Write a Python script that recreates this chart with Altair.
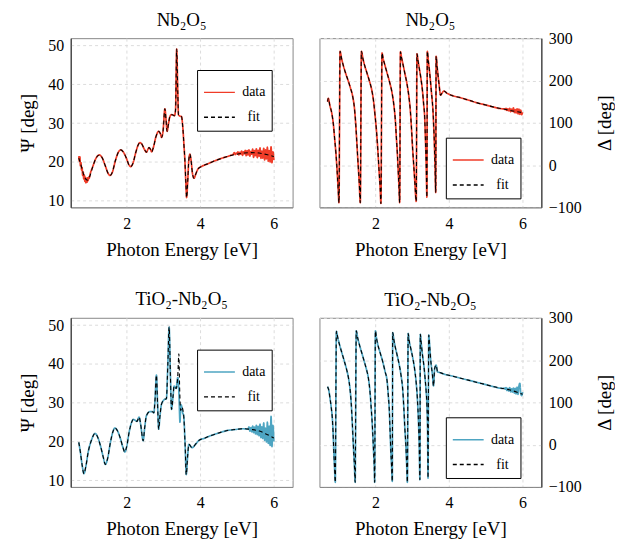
import altair as alt
import pandas as pd

FONT = "Liberation Serif"
RED = "#f03c28"
CYAN = "#4ea5c2"

# ---------------- Nb2O5 : Psi ----------------
nb_psi_E = [0.70, 0.75, 0.80, 0.86, 0.93, 1.00, 1.08, 1.17, 1.26, 1.34, 1.42, 1.50, 1.55, 1.61, 1.70,
            1.78, 1.84, 1.92, 2.00, 2.06, 2.11, 2.17, 2.25, 2.31, 2.36, 2.42, 2.48, 2.54, 2.58, 2.61,
            2.65, 2.68, 2.72, 2.80, 2.87, 2.92, 2.95, 2.99, 3.04, 3.07, 3.10, 3.14, 3.17, 3.22, 3.26,
            3.30, 3.33, 3.36, 3.39, 3.41, 3.45, 3.49, 3.53, 3.56, 3.58, 3.61, 3.63, 3.66, 3.69, 3.72,
            3.75, 3.79, 3.83, 3.88, 3.94, 4.05, 4.20, 4.40, 4.60, 4.80, 5.00, 5.20, 5.40, 5.60, 5.80, 6.00]
nb_psi_fit = [21.0, 19.5, 17.8, 16.0, 15.3, 16.3, 18.8, 21.0, 21.8, 21.0, 19.0, 17.0, 16.5, 17.3, 20.5,
              22.6, 23.1, 22.4, 20.8, 19.3, 18.8, 19.6, 22.5, 24.3, 25.0, 24.5, 23.3, 22.5, 23.3, 23.7,
              23.2, 22.6, 23.5, 26.6, 27.9, 27.2, 26.3, 28.0, 33.7, 31.0, 27.9, 30.0, 31.5, 32.2, 32.1,
              31.9, 33.5, 49.1, 38.0, 32.1, 31.8, 31.7, 28.5, 24.0, 21.0, 14.5, 10.8, 15.0, 20.5, 22.0,
              20.5, 17.0, 15.8, 16.9, 18.2, 18.9, 19.5, 20.3, 21.0, 21.6, 22.0, 22.3, 22.4, 22.3, 21.9, 21.4]
nb_psi_head_E = [0.700, 0.715, 0.730, 0.745, 0.760, 0.775, 0.790, 0.805, 0.820, 0.835, 0.850,
                 0.865, 0.880, 0.895, 0.910, 0.925, 0.940, 0.955, 0.970, 0.985, 1.000]
nb_psi_head = [21.5, 20.2, 21.3, 19.0, 19.8, 17.9, 18.6, 16.5, 17.4, 15.6, 16.6,
               15.0, 16.0, 14.6, 15.8, 14.8, 15.9, 15.2, 16.1, 15.8, 16.5]
nb_psi_tail_E = [4.900, 4.925, 4.950, 4.975, 5.000, 5.025, 5.050, 5.075, 5.100, 5.125, 5.150, 5.175,
                 5.200, 5.225, 5.250, 5.275, 5.300, 5.325, 5.350, 5.375, 5.400, 5.425, 5.450, 5.475,
                 5.500, 5.525, 5.550, 5.575, 5.600, 5.625, 5.650, 5.675, 5.700, 5.725, 5.750, 5.775,
                 5.800, 5.825, 5.850, 5.875, 5.900, 5.925, 5.950, 5.975, 6.000]
nb_psi_tail = [22.0, 22.4, 21.9, 22.3, 22.1, 22.6, 21.8, 22.5, 22.0, 22.8, 21.7, 22.6,
               22.1, 23.0, 21.6, 22.9, 21.8, 23.1, 21.5, 22.7, 22.0, 23.3, 21.2, 22.9,
               21.6, 23.4, 21.1, 23.0, 21.5, 23.6, 20.9, 22.8, 21.0, 23.5, 20.5, 23.1,
               20.8, 23.8, 20.2, 22.9, 20.0, 23.9, 19.8, 22.6, 20.5]

# ---------------- Nb2O5 : Delta ----------------
nb_del_E = [0.70, 0.72, 0.76, 0.82, 0.86, 0.89, 0.93, 0.96, 0.99, 1.01, 1.04, 1.08, 1.12, 1.18, 1.25,
            1.32, 1.39, 1.43, 1.46, 1.49, 1.52, 1.56, 1.59, 1.62, 1.66, 1.70, 1.77, 1.84, 1.90, 1.95,
            1.99, 2.03, 2.07, 2.10, 2.13, 2.15, 2.18, 2.21, 2.24, 2.31, 2.38, 2.45, 2.50, 2.54, 2.57,
            2.60, 2.62, 2.64, 2.66, 2.68, 2.71, 2.74, 2.80, 2.86, 2.91, 2.95, 2.98, 3.01, 3.04, 3.07,
            3.11, 3.13, 3.16, 3.19, 3.24, 3.28, 3.31, 3.34, 3.36, 3.38, 3.40, 3.41, 3.44, 3.47, 3.52,
            3.57, 3.60, 3.62, 3.64, 3.65, 3.68, 3.73, 3.77, 3.81, 3.86, 3.94, 4.10, 4.32, 4.55, 4.77,
            5.00, 5.22, 5.45, 5.67, 5.85, 6.00]
nb_del_fit = [150, 158, 142, 120, 95, 65, 25, -14, -60, -89, 269, 252, 238, 220, 202,
              183, 159, 135, 104, 62, 17, -40, -89, 269, 252, 238, 218, 198, 178, 151,
              118, 80, 30, -14, -55, -91, 265, 252, 242, 220, 198, 172, 143, 108, 65,
              22, -14, -50, -89, 268, 254, 242, 217, 191, 162, 128, 88, 41, 2, -38,
              -86, 263, 246, 230, 203, 175, 145, 112, 60, 2, -76, 269, 245, 222, 175,
              120, 57, 0, -65, 257, 230, 191, 165, 170, 175, 170, 164, 159, 153, 147,
              142, 137, 133, 129, 126, 124]
nb_del_tail_E = [5.500, 5.525, 5.550, 5.575, 5.600, 5.625, 5.650, 5.675, 5.700, 5.725, 5.750,
                 5.775, 5.800, 5.825, 5.850, 5.875, 5.900, 5.925, 5.950, 5.975, 6.000]
nb_del_tail = [133, 131, 134, 129, 133, 128, 134, 126, 132, 127, 135,
               124, 131, 123, 133, 121, 132, 120, 130, 119, 125]

# ---------------- TiO2-Nb2O5 : Psi ----------------
ti_psi_E = [0.70, 0.74, 0.79, 0.84, 0.89, 0.96, 1.05, 1.14, 1.22, 1.30, 1.37, 1.42, 1.48, 1.56, 1.63,
            1.68, 1.75, 1.83, 1.90, 1.95, 2.00, 2.07, 2.13, 2.18, 2.23, 2.28, 2.34, 2.38, 2.45, 2.49,
            2.54, 2.63, 2.70, 2.74, 2.77, 2.81, 2.84, 2.87, 2.91, 2.95, 3.04, 3.08, 3.12, 3.155, 3.19,
            3.22, 3.26, 3.29, 3.35, 3.39, 3.42, 3.44, 3.47, 3.50, 3.55, 3.59, 3.62, 3.66, 3.69, 3.78,
            3.88, 3.98, 4.10, 4.25, 4.50, 4.71, 4.95, 5.16, 5.40, 5.61, 5.80, 6.00]
ti_psi_fit = [19.8, 17.5, 14.0, 11.7, 13.5, 17.5, 20.5, 22.1, 21.0, 18.5, 15.8, 14.1, 15.5, 19.8, 22.6,
              23.5, 22.8, 20.8, 18.5, 17.3, 18.6, 22.5, 24.8, 25.7, 25.5, 25.2, 26.3, 24.5, 20.2, 23.5,
              26.7, 27.7, 27.7, 27.4, 30.5, 37.1, 30.0, 23.2, 27.0, 29.7, 30.9, 31.0, 40.0, 49.5, 37.0,
              28.3, 31.5, 34.3, 33.7, 37.0, 42.6, 34.0, 28.0, 28.9, 26.7, 19.0, 11.5, 16.5, 19.3, 18.4,
              19.4, 20.4, 20.8, 21.4, 22.2, 22.8, 23.1, 23.3, 23.1, 22.7, 21.9, 20.9]
ti_psi_mid_E = [3.36, 3.39, 3.42, 3.45, 3.47, 3.50, 3.52]
ti_psi_mid = [34.5, 36.5, 33.0, 25.0, 29.5, 28.9, 27.5]
ti_psi_tail_E = [5.300, 5.325, 5.350, 5.375, 5.400, 5.425, 5.450, 5.475, 5.500, 5.525, 5.550, 5.575,
                 5.600, 5.625, 5.650, 5.675, 5.700, 5.725, 5.750, 5.775, 5.800, 5.825, 5.850, 5.875,
                 5.900, 5.925, 5.950, 5.975, 6.000]
ti_psi_tail = [23.2, 23.8, 22.7, 23.6, 22.5, 24.0, 22.3, 23.7, 22.0, 24.2, 21.8, 23.9,
               21.5, 24.5, 21.0, 23.8, 20.8, 24.8, 20.3, 23.5, 19.9, 25.0, 19.5, 24.0,
               19.0, 26.5, 18.7, 24.2, 20.0]

# ---------------- TiO2-Nb2O5 : Delta ----------------
ti_del_E = [0.70, 0.73, 0.77, 0.80, 0.83, 0.85, 0.87, 0.89, 0.91, 0.94, 0.98, 1.03, 1.10, 1.16, 1.22,
            1.27, 1.31, 1.34, 1.37, 1.40, 1.43, 1.45, 1.48, 1.52, 1.57, 1.64, 1.70, 1.76, 1.81, 1.85,
            1.88, 1.92, 1.95, 1.97, 1.98, 2.00, 2.03, 2.06, 2.13, 2.20, 2.26, 2.32, 2.35, 2.38, 2.40,
            2.42, 2.44, 2.46, 2.47, 2.50, 2.53, 2.59, 2.65, 2.70, 2.74, 2.77, 2.80, 2.83, 2.85, 2.87,
            2.89, 2.92, 2.96, 3.02, 3.07, 3.11, 3.14, 3.17, 3.19, 3.21, 3.22, 3.25, 3.28, 3.32, 3.35,
            3.38, 3.40, 3.42, 3.43, 3.45, 3.48, 3.50, 3.55, 3.58, 3.61, 3.65, 3.69, 3.73, 3.90, 4.10,
            4.32, 4.55, 4.77, 5.00, 5.22, 5.45, 5.67, 5.85, 6.00]
ti_del_fit = [137, 130, 108, 88, 62, 30, -16, -55, -89, 268, 252, 235, 214, 196, 177,
              157, 132, 102, 55, 0, -50, -89, 269, 252, 235, 214, 196, 177, 157, 128,
              94, 40, -16, -55, -89, 269, 252, 239, 217, 196, 174, 149, 117, 78, 30,
              -16, -52, -87, 265, 249, 235, 212, 188, 162, 133, 92, 39, -5, -48, -89,
              263, 245, 228, 203, 176, 145, 110, 55, 0, -83, 261, 236, 212, 185, 157,
              125, 94, 20, -79, 259, 228, 204, 165, 139, 180, 188, 172, 171, 166, 162,
              157, 152, 147, 142, 137, 133, 129, 124, 119]
ti_del_tail_E = [5.500, 5.525, 5.550, 5.575, 5.600, 5.625, 5.650, 5.675, 5.700, 5.725, 5.750,
                 5.775, 5.800, 5.825, 5.850, 5.875, 5.900, 5.925, 5.950, 5.975, 6.000]
ti_del_tail = [134, 131, 135, 128, 133, 127, 135, 125, 132, 124, 134,
               122, 133, 120, 136, 119, 138, 145, 121, 116, 124]

X_DOMAIN = [0.48, 6.51]
X_TICKS = [2, 4, 6]


def build_data(E, fit, pieces):
    """data series = fit grid outside the measured noisy pieces + the noisy pieces"""
    fit_df = pd.DataFrame({"E": E, "v": fit})
    parts = []
    keep = pd.Series(True, index=fit_df.index)
    for pe, pv in pieces:
        keep &= ~((fit_df["E"] >= min(pe)) & (fit_df["E"] <= max(pe)))
        parts.append(pd.DataFrame({"E": pe, "v": pv}))
    data_df = pd.concat([fit_df[keep]] + parts).sort_values("E")
    data_df["s"] = "data"
    fit_df["s"] = "fit"
    return pd.concat([data_df, fit_df], ignore_index=True)


def panel(df, title, ytitle, ydomain, yticks, side, color, lx, ly, title_offset):
    leg = alt.Legend(
        orient="none", legendX=lx, legendY=ly, title=None,
        symbolType="stroke", symbolSize=961, symbolStrokeWidth=1.4,
        labelFont=FONT, labelFontSize=14, labelColor="black",
        labelAlign="center", labelOffset=18, labelLimit=100,
        fillColor="white", strokeColor="black",
        padding=6, rowPadding=1, cornerRadius=0,
    )
    col = alt.Color("s:N", scale=alt.Scale(domain=["data", "fit"], range=[color, "black"]), legend=leg)
    dash = alt.StrokeDash("s:N", scale=alt.Scale(domain=["data", "fit"], range=[[1, 0], [4, 3]]), legend=leg)
    x = alt.X("E:Q", scale=alt.Scale(domain=X_DOMAIN, nice=False, zero=False),
              axis=alt.Axis(values=X_TICKS, title="Photon Energy [eV]", format="d",
                            labelFont=FONT, labelFontSize=16, labelColor="black", labelPadding=8,
                            titleFont=FONT, titleFontSize=19, titleFontWeight="normal",
                            titleColor="black", titlePadding=9,
                            ticks=False, domainColor="#888",
                            grid=True, gridDash=[3, 3], gridColor="#dcdcdc"))
    yaxis_kw = dict(values=yticks, title=ytitle, orient=side, format="d",
                    labelFont=FONT, labelFontSize=16, labelColor="black", labelPadding=7,
                    titleFont=FONT, titleFontSize=19, titleFontWeight="normal",
                    titleColor="black", titlePadding=10, ticks=False, domainColor="#222",
                    grid=True, gridDash=[3, 3], gridColor="#dcdcdc")
    if side == "right":
        yaxis_kw.update(titleAngle=270, titleBaseline="top", titlePadding=14)
    y = alt.Y("v:Q", scale=alt.Scale(domain=ydomain, nice=False, zero=False),
              axis=alt.Axis(**yaxis_kw))
    base = alt.Chart(df)
    data_layer = base.transform_filter(alt.datum.s == "data").mark_line(
        strokeWidth=1.7, interpolate="monotone", clip=True).encode(x=x, y=y, color=col, strokeDash=dash)
    fit_layer = base.transform_filter(alt.datum.s == "fit").mark_line(
        strokeWidth=1.1, interpolate="monotone", clip=True).encode(x=x, y=y, color=col, strokeDash=dash)
    return alt.layer(data_layer, fit_layer).properties(
        width=223, height=170,
        title=alt.TitleParams(text=title, font=FONT, fontSize=19, fontWeight="normal",
                              color="black", anchor="middle", offset=title_offset, frame="group"),
    )


df1 = build_data(nb_psi_E, nb_psi_fit, [(nb_psi_head_E, nb_psi_head), (nb_psi_tail_E, nb_psi_tail)])
df2 = build_data(nb_del_E, nb_del_fit, [(nb_del_tail_E, nb_del_tail)])
df3 = build_data(ti_psi_E, ti_psi_fit, [(ti_psi_mid_E, ti_psi_mid), (ti_psi_tail_E, ti_psi_tail)])
df4 = build_data(ti_del_E, ti_del_fit, [(ti_del_tail_E, ti_del_tail)])

p1 = panel(df1, "Nb₂O₅", "Ψ [deg]", [8.3, 51.9], [10, 20, 30, 40, 50], "left", RED, 127, 32, 8)
p2 = panel(df2, "Nb₂O₅", "Δ [deg]", [-100, 300], [-100, 0, 100, 200, 300], "right", RED, 127, 100, 0)
p3 = panel(df3, "TiO₂-Nb₂O₅", "Ψ [deg]", [8.3, 51.9], [10, 20, 30, 40, 50], "left", CYAN, 127, 32, 8)
p4 = panel(df4, "TiO₂-Nb₂O₅", "Δ [deg]", [-100, 300], [-100, 0, 100, 200, 300], "right", CYAN, 127, 100, 0)

top = alt.hconcat(p1, p2, spacing=25).resolve_scale(color="independent", strokeDash="independent")
bottom = alt.hconcat(p3, p4, spacing=25).resolve_scale(color="independent", strokeDash="independent")
chart = alt.vconcat(top, bottom, spacing=29).resolve_scale(
    color="independent", strokeDash="independent"
).properties(
    padding={"left": 10, "top": 0, "right": 0, "bottom": 0}
).configure(background="white", font=FONT).configure_view(stroke="#888", strokeWidth=1)

chart.save("out.html", embed_options={"renderer": "svg", "actions": False})
